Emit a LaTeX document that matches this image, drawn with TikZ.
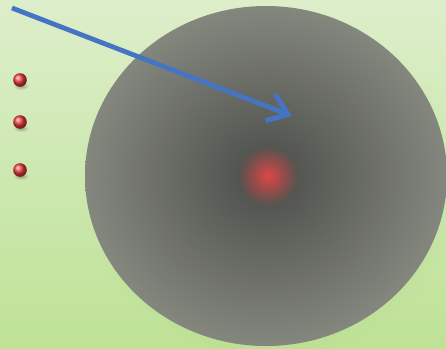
\documentclass[tikz,border=0pt]{standalone}
\usetikzlibrary{arrows.meta,fadings}
\definecolor{bgtop}{RGB}{221,238,202}
\definecolor{bgbot}{RGB}{190,226,150}
\definecolor{ellin}{RGB}{74,76,72}
\definecolor{ellout}{RGB}{132,135,126}
\definecolor{glowred}{RGB}{222,72,72}
\definecolor{ballred}{RGB}{240,60,62}
\definecolor{arrowblue}{RGB}{70,116,196}
\tikzfading[name=glowfade, inner color=transparent!0, outer color=transparent!100]
\tikzset{
  ball/.style={shading=ball, ball color=ballred},
  ballshadow/.style={fill=black, opacity=0.3, path fading=glowfade},
  glow/.style={fill=glowred, path fading=glowfade},
  pointer/.style={draw=arrowblue, line width=4.8pt, -{Straight Barb[length=19pt,width=28pt,line width=5pt]}}
}
\begin{document}
\begin{tikzpicture}[x=1pt,y=-1pt]
\useasboundingbox (0,0) rectangle (446,348);
\shade[top color=bgtop, bottom color=bgbot] (0,0) rectangle (446,348);
% soft shadow of the cloud
\fill[black, opacity=0.12, path fading=glowfade] (270,184) ellipse [x radius=192pt, y radius=176pt];
\shade[inner color=ellin, outer color=ellout] (266,176) ellipse [x radius=181pt, y radius=170pt];
\coordinate (nucleus) at (268,176);
\fill[glow] (nucleus) circle [radius=30pt];
% balls
\foreach \n/\y in {b1/80, b2/122, b3/170}{
  \fill[ballshadow] (21,\y+6) ellipse [x radius=8pt, y radius=4pt];
  \shade[ball] (20,\y) circle [radius=6.8pt];
  \coordinate (\n) at (20,\y);
}
\coordinate (start) at (12,8);
\coordinate (tip) at (292,116);
\draw[pointer] (start) -- (tip);
\end{tikzpicture}
\end{document}
